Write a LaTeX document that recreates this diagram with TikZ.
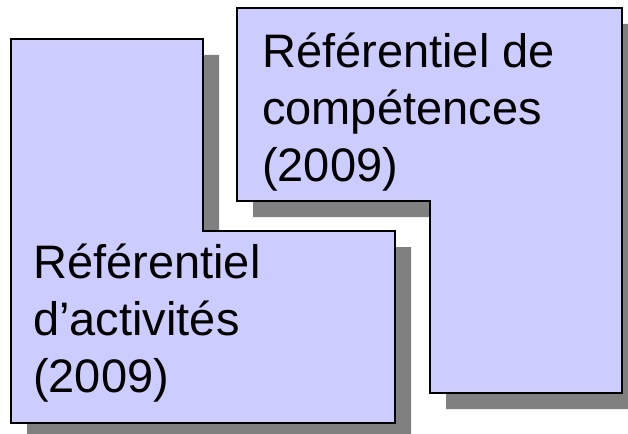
\documentclass[tikz,border=0pt]{standalone}
\usepackage{fontspec}
\setmainfont{Liberation Sans}
\definecolor{boxfill}{HTML}{CCCCFF}
\definecolor{shadowgrey}{HTML}{808080}
\begin{document}
\begin{tikzpicture}[x=1pt,y=-1pt,
  lbox/.style={draw=black,fill=boxfill,line width=1.8pt,line join=miter},
  lshade/.style={fill=shadowgrey,draw=none},
  boxtext/.style={anchor=base west,align=left,inner sep=0pt,font=\fontsize{47}{57}\selectfont}]
\useasboundingbox[fill=white] (0,0) rectangle (628,433);
% left shape
\fill[lshade,shift={(16,16)}] (11,39) -- (203,39) -- (203,231) -- (395,231) -- (395,423) -- (11,423) -- cycle;
\draw[lbox] (11,39) -- (203,39) -- (203,231) -- (395,231) -- (395,423) -- (11,423) -- cycle;
% right shape
\fill[lshade,shift={(16,16)}] (237,8) -- (622,8) -- (622,393) -- (430,393) -- (430,201) -- (237,201) -- cycle;
\draw[lbox] (237,8) -- (622,8) -- (622,393) -- (430,393) -- (430,201) -- (237,201) -- cycle;
\node[boxtext] (comp) at (262,181) {Référentiel de\\compétences\\(2009)};
\node[boxtext] (act) at (33,392) {Référentiel\\d’activités\\(2009)};
\end{tikzpicture}
\end{document}
